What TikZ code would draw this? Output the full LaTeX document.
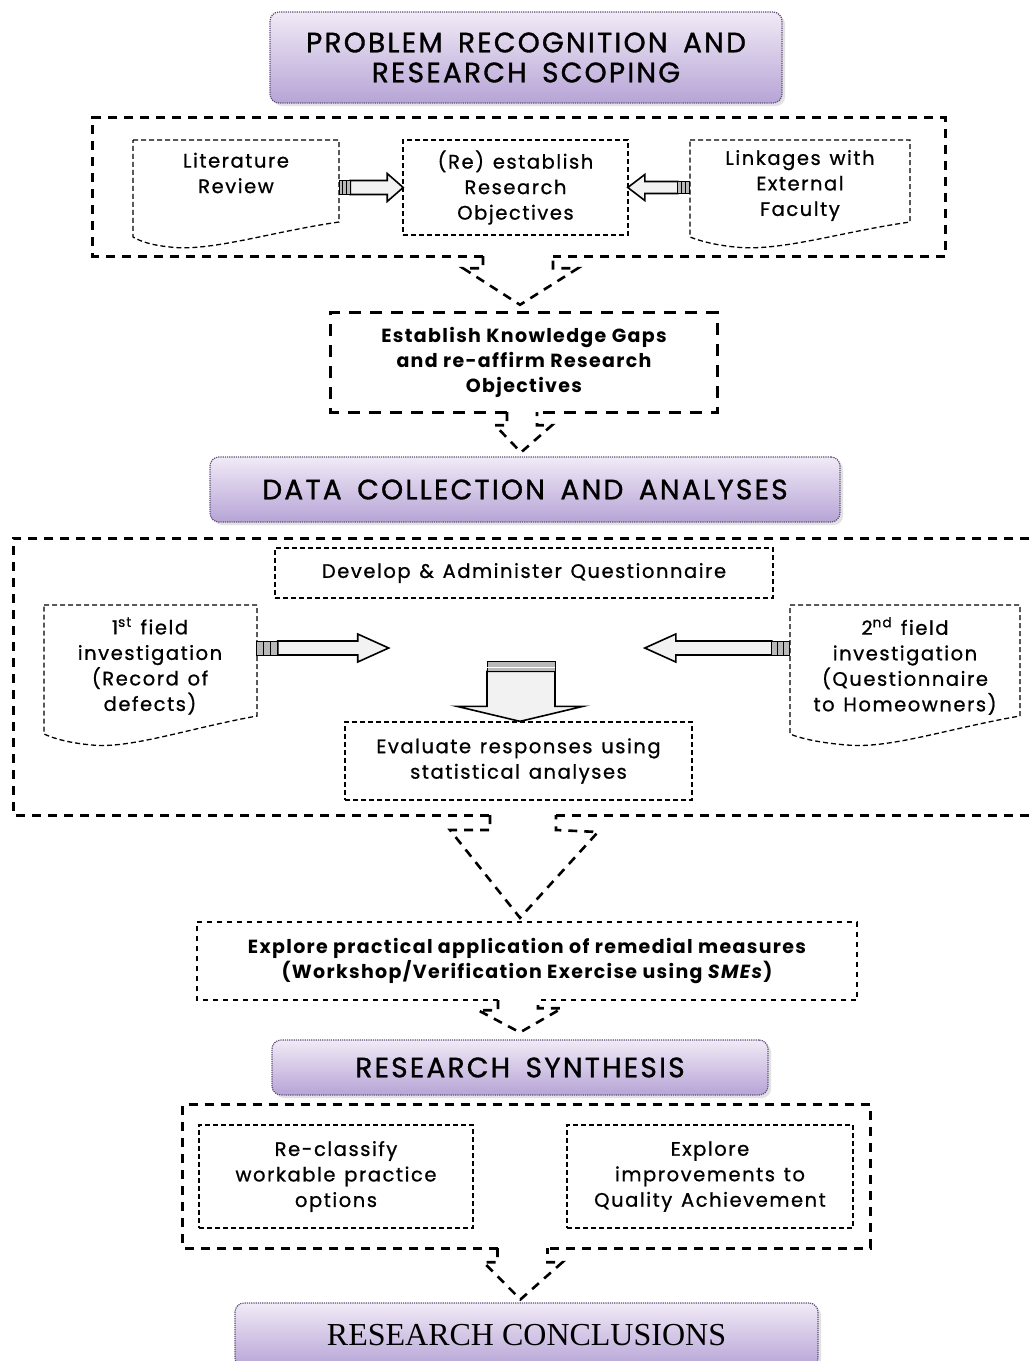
\documentclass[tikz,border=0pt]{standalone}
\usepackage{fontspec}
\setmainfont{Poppins}
\newfontfamily\banfont[LetterSpace=8,WordSpace=1.6,FakeBold=1.2]{Poppins}
\newfontfamily\bodyfont[LetterSpace=8,WordSpace=1.3,FakeBold=0.9]{Poppins}
\newfontfamily\boldfont[LetterSpace=7]{Poppins}
\newfontfamily\serfont{Liberation Serif}
\usetikzlibrary{calc,shadows}
\definecolor{banA}{HTML}{F1EAF6}
\definecolor{banB}{HTML}{B6A4D6}
\definecolor{banD}{HTML}{5E4F78}
\definecolor{arrfill}{HTML}{F2F2F2}
\newcommand\hblk[7]{%
\begin{scope}[shift={(#1)},xscale=#2]
\draw[line width=1.6pt, fill=arrfill, line join=miter] (#3,-#6) -- ({#3+#4},-#6) -- ({#3+#4},-#7) -- ({#3+#4+#5},0) -- ({#3+#4},#7) -- ({#3+#4},#6) -- (#3,#6) -- cycle;
\draw[line width=1pt, fill=gray!55] (0,-#6) rectangle (#3,#6);
\draw[line width=0.8pt] ({#3/3},-#6) -- ({#3/3},#6) ({2*#3/3},-#6) -- ({2*#3/3},#6);
\end{scope}}
\begin{document}
\begin{tikzpicture}[x=1pt,y=-1pt,
  banner/.style={rounded corners=9pt, top color=banA, bottom color=banB, draw=banD, densely dotted, line width=1.2pt, inner sep=0pt, align=center, text=black,
     drop shadow={shadow xshift=3pt, shadow yshift=-3pt, fill=gray!45}},
  bantxt/.style={font=\banfont\fontsize{28}{30}\selectfont},
  txt/.style={align=center, inner sep=0pt, font=\bodyfont\fontsize{19.5}{25.5}\selectfont},
  btxt/.style={txt, font=\boldfont\bfseries\fontsize{19}{25}\selectfont},
  thin/.style={draw, line width=1.3pt, dash pattern=on 5pt off 3pt},
  dotb/.style={line width=2.2pt, dash pattern=on 5pt off 5pt},
  thick/.style={line width=3pt, dash pattern=on 9pt off 7pt},
  chev/.style={line width=2.6pt, dash pattern=on 9pt off 7pt, line join=miter},
]
\useasboundingbox (0,0) rectangle (1029,1361);

% ---------- banner 1
\node[banner, bantxt, minimum width=512, minimum height=91] (ban1) at (526,57.5) {PROBLEM RECOGNITION AND\\RESEARCH SCOPING};

% ---------- group 1
\node[minimum width=852, minimum height=138, inner sep=0pt] (g1) at (519,187) {};
\draw[thick] ($(g1.south)+(-36,0)$) -| (g1.north west) -| (g1.south east) -- ($(g1.south)+(34,0)$);

\node[txt, minimum width=206] (lit) at (236,173) {Literature\\Review};
\draw[thin] (133,140) -- (339,140) -- (339,222) .. controls (270,232) and (210,252) .. (170,247) .. controls (150,245) and (140,241) .. (133,237) -- cycle;

\node[txt, thin, minimum width=225, minimum height=95] (res) at (515.5,187.5) {(Re) establish\\Research\\Objectives};

\node[txt, minimum width=220] (ext) at (800,185.5) {Linkages with\\External\\Faculty};
\draw[thin] (690,140) -- (910,140) -- (910,222) .. controls (840,232) and (780,252) .. (735,247) .. controls (715,245) and (700,241) .. (690,237) -- cycle;

\coordinate (a1) at (lit.east |- res.west);
\coordinate (a2) at (ext.west |- res.east);
\hblk{a1}{1}{11}{37}{16}{7}{14}
\hblk{a2}{-1}{12}{33}{17}{6}{13}

% ---------- box 2
\node[btxt, minimum width=386, minimum height=99] (b2) at (524,362.5) {Establish Knowledge Gaps\\and re-affirm Research\\Objectives};
\draw[thick, dash pattern=on 12pt off 9pt] ($(b2.south)+(-17,0)$) -| (b2.north west) -| (b2.south east) -- ($(b2.south)+(13,0)$);

% chevron A
\draw[chev] ($(g1.south)+(-36,0)$) -- ++(0,12) -- ++(-20,0) -- ($(b2.north)+(-4,-8)$) -- ($(g1.south)+(59,12)$) -- ($(g1.south)+(34,12)$) -- ($(g1.south)+(34,0)$);

% ---------- banner 2
\node[banner, bantxt, minimum width=630, minimum height=65] (ban2) at (525,489.5) {DATA COLLECTION AND ANALYSES};

% chevron B
\draw[chev] ($(b2.south)+(-17,0)$) -- ++(0,13) -- ++(-12,0) -- ($(ban2.north)+(-4,-4)$) -- ($(b2.south)+(28,13)$) -- ($(b2.south)+(13,13)$) -- ($(b2.south)+(13,0)$);

% ---------- group 3
\node[minimum width=1016, minimum height=277, inner sep=0pt] (g3) at (521,676.5) {};
\draw[thick] (1029,538) -- (13,538) -- (13,815) -- (490,815);
\draw[thick] (556,815) -- (1029,815);

\node[txt, thin, minimum width=498, minimum height=50] (dev) at (524,573) {Develop \& Administer Questionnaire};

\node[txt, minimum width=213] (first) at (150,666) {1\textsuperscript{st} field\\investigation\\(Record of\\defects)};
\draw[thin] (44,605) -- (257,605) -- (257,716) .. controls (190,728) and (130,749) .. (92,745) .. controls (70,743) and (55,739) .. (44,734) -- cycle;

\node[txt, minimum width=230] (second) at (905,666) {2\textsuperscript{nd} field\\investigation\\(Questionnaire\\to Homeowners)};
\draw[thin] (790,605) -- (1020,605) -- (1020,716) .. controls (950,728) and (890,749) .. (847,745) .. controls (822,743) and (802,739) .. (790,734) -- cycle;

\node[txt, thin, minimum width=347, minimum height=78] (eval) at (518.5,761) {Evaluate responses using\\statistical analyses};

\coordinate (a3) at ($(first.east)+(0,-18)$);
\coordinate (a4) at ($(second.west)+(0,-18)$);
\hblk{a3}{1}{21}{80}{31}{7}{14}
\hblk{a4}{-1}{18}{96}{31}{7}{14}

% down block arrow into eval
\coordinate (tipd) at ($(eval.north)+(1.5,0)$);
\draw[line width=1.6pt, fill=arrfill, line join=miter] ($(tipd)+(-33,-50)$) -- ($(tipd)+(-33,-15)$) -- ($(tipd)+(-63,-15)$) -- (tipd) -- ($(tipd)+(63,-15)$) -- ($(tipd)+(35,-15)$) -- ($(tipd)+(35,-50)$) -- cycle;
\draw[line width=1pt, fill=gray!55] ($(tipd)+(-33,-60)$) rectangle ($(tipd)+(35,-50)$);
\draw[line width=1pt, white] ($(tipd)+(-33,-54)$) -- ($(tipd)+(35,-54)$);

% ---------- box 4
\node[btxt, minimum width=660, minimum height=78] (b4) at (527,961) {Explore practical application of remedial measures\\(Workshop/Verification Exercise using \textit{SMEs})};
\draw[dotb] ($(b4.south)+(-29,0)$) -| (b4.north west) -| (b4.south east) -- ($(b4.south)+(11,0)$);

% chevron C
\draw[chev] (490,815) -- ++(0,15) -- ++(-40,0) -- ($(b4.north)+(-7,-4)$) -- (598,832) -- (556,830) -- (556,815);

% ---------- banner 3
\node[banner, bantxt, minimum width=496, minimum height=55] (ban3) at (520,1067.5) {RESEARCH SYNTHESIS};

% chevron D
\draw[chev] ($(b4.south)+(-29,0)$) -- ++(0,10) -- ++(-20,0) -- ($(ban3.north)+(0,-7)$) -- ($(b4.south)+(35,8)$) -- ($(b4.south)+(11,8)$) -- ($(b4.south)+(11,0)$);

% ---------- group 5
\node[minimum width=687, minimum height=143, inner sep=0pt] (g5) at (526.5,1176.5) {};
\draw[thick] ($(g5.south)+(-29,0)$) -| (g5.north west) -| (g5.south east) -- ($(g5.south)+(21,0)$);

\node[txt, thin, minimum width=274, minimum height=103] (recl) at (336,1176.5) {Re-classify\\workable practice\\options};
\node[txt, thin, minimum width=286, minimum height=103] (expl) at (710,1176.5) {Explore\\improvements to\\Quality Achievement};

% ---------- banner 4
\node[banner, minimum width=583, minimum height=64, font=\serfont\fontsize{32}{36}\selectfont] (ban4) at (526.5,1335) {RESEARCH CONCLUSIONS};

% chevron E
\draw[chev] ($(g5.south)+(-29,0)$) -- ++(0,14) -- ++(-14,0) -- ($(ban4.north)+(-6,-3)$) -- ($(g5.south)+(36,14)$) -- ($(g5.south)+(21,14)$) -- ($(g5.south)+(21,0)$);
\end{tikzpicture}
\end{document}
